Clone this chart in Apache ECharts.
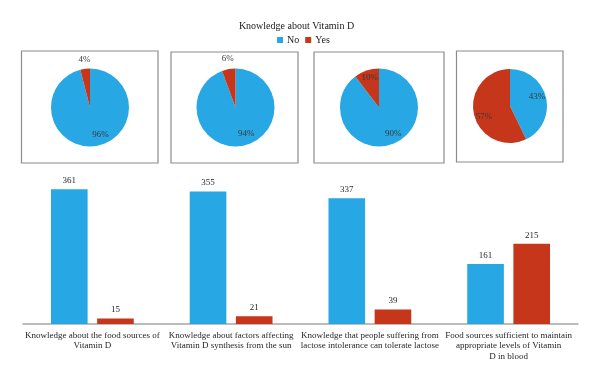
<!DOCTYPE html>
<html>
<head>
<meta charset="utf-8">
<script src="https://cdn.jsdelivr.net/npm/echarts@6/dist/echarts.min.js"></script>
<style>
html,body{margin:0;padding:0;background:#fff;}
#chart{width:600px;height:380px;}
</style>
</head>
<body>
<div id="chart"></div>
<script>
// ---- data ----
const titleText = 'Knowledge about Vitamin D';
const seriesNames = ['No', 'Yes'];
const categories = [
  'Knowledge about the food sources of\nVitamin D',
  'Knowledge about factors affecting\nVitamin D synthesis from the sun',
  'Knowledge that people suffering from\nlactose intolerance can tolerate lactose',
  'Food sources sufficient to maintain\nappropriate levels of Vitamin\nD in blood'
];
const noValues = [361, 355, 337, 161];
const yesValues = [15, 21, 39, 215];

// ---- styling / layout ----
const FONT = 'Liberation Serif';
const BLUE = '#27A7E3';
const RED = '#C5361B';
const TEXT = '#262626';

const pieLayout = [
  { center: [90, 107.5], r: 39, off: [[7.6, 5.2], [-2.6, -26]] },
  { center: [235.5, 107.5], r: 39, off: [[6.8, 4.3], [-3.8, -26.3]] },
  { center: [379, 107.5], r: 39, off: [[7, 5], [-2, -9]] },
  { center: [510, 106], r: 37, off: [[6, -4.3], [-5, 6]] }
];
const boxes = [
  [21.5, 51, 136.5, 112],
  [171, 52, 127, 111],
  [314, 52, 130, 111],
  [456.5, 51, 106.5, 111]
];

const pieSeries = pieLayout.map((p, i) => ({
  type: 'pie',
  center: p.center,
  radius: p.r,
  startAngle: 90,
  clockwise: true,
  percentPrecision: 0,
  silent: true,
  labelLine: { show: false },
  label: {
    show: true,
    position: 'inside',
    formatter: '{d}%',
    fontFamily: FONT,
    fontSize: 9,
    color: '#3a3a3a'
  },
  data: [
    { name: seriesNames[0], value: noValues[i], itemStyle: { color: BLUE }, label: { offset: p.off[0] } },
    { name: seriesNames[1], value: yesValues[i], itemStyle: { color: RED }, label: { offset: p.off[1] } }
  ]
}));

const chart = echarts.init(document.getElementById('chart'), null, { renderer: 'canvas' });
chart.setOption({
  animation: false,
  backgroundColor: '#ffffff',
  title: {
    text: titleText,
    left: 291.5,
    textAlign: 'center',
    top: 16,
    textStyle: { fontFamily: FONT, fontSize: 10, fontWeight: 'normal', color: '#1a1a1a' }
  },
  legend: {
    data: seriesNames,
    left: 272,
    top: 30,
    icon: 'rect',
    itemWidth: 6,
    itemHeight: 6,
    itemGap: 6,
    textStyle: { fontFamily: FONT, fontSize: 10, color: '#1a1a1a', padding: [0, 0, 0, -1] }
  },
  graphic: boxes.map(b => ({
    type: 'rect',
    shape: { x: b[0], y: b[1], width: b[2], height: b[3] },
    style: { fill: 'none', stroke: '#8c8c8c', lineWidth: 1.2 },
    silent: true,
    z: 0
  })),
  grid: { left: 23, right: 22, top: 174.8, bottom: 56, containLabel: false },
  xAxis: {
    type: 'category',
    data: categories,
    axisTick: { show: false },
    axisLine: { lineStyle: { color: '#a6a6a6', width: 1.5 } },
    axisLabel: {
      interval: 0,
      margin: 6,
      fontFamily: FONT,
      fontSize: 9,
      lineHeight: 10.5,
      color: TEXT
    }
  },
  yAxis: {
    type: 'value',
    min: 0,
    max: 400,
    show: false,
    splitLine: { show: false }
  },
  series: [
    {
      name: seriesNames[0],
      type: 'bar',
      data: noValues,
      barWidth: '26.4%',
      barGap: '26%',
      itemStyle: { color: BLUE },
      label: { show: true, position: 'top', distance: 4, fontFamily: FONT, fontSize: 9, color: TEXT }
    },
    {
      name: seriesNames[1],
      type: 'bar',
      data: yesValues,
      barWidth: '26.4%',
      barGap: '26%',
      itemStyle: { color: RED },
      label: { show: true, position: 'top', distance: 4, fontFamily: FONT, fontSize: 9, color: TEXT }
    }
  ].concat(pieSeries)
});
</script>
</body>
</html>
